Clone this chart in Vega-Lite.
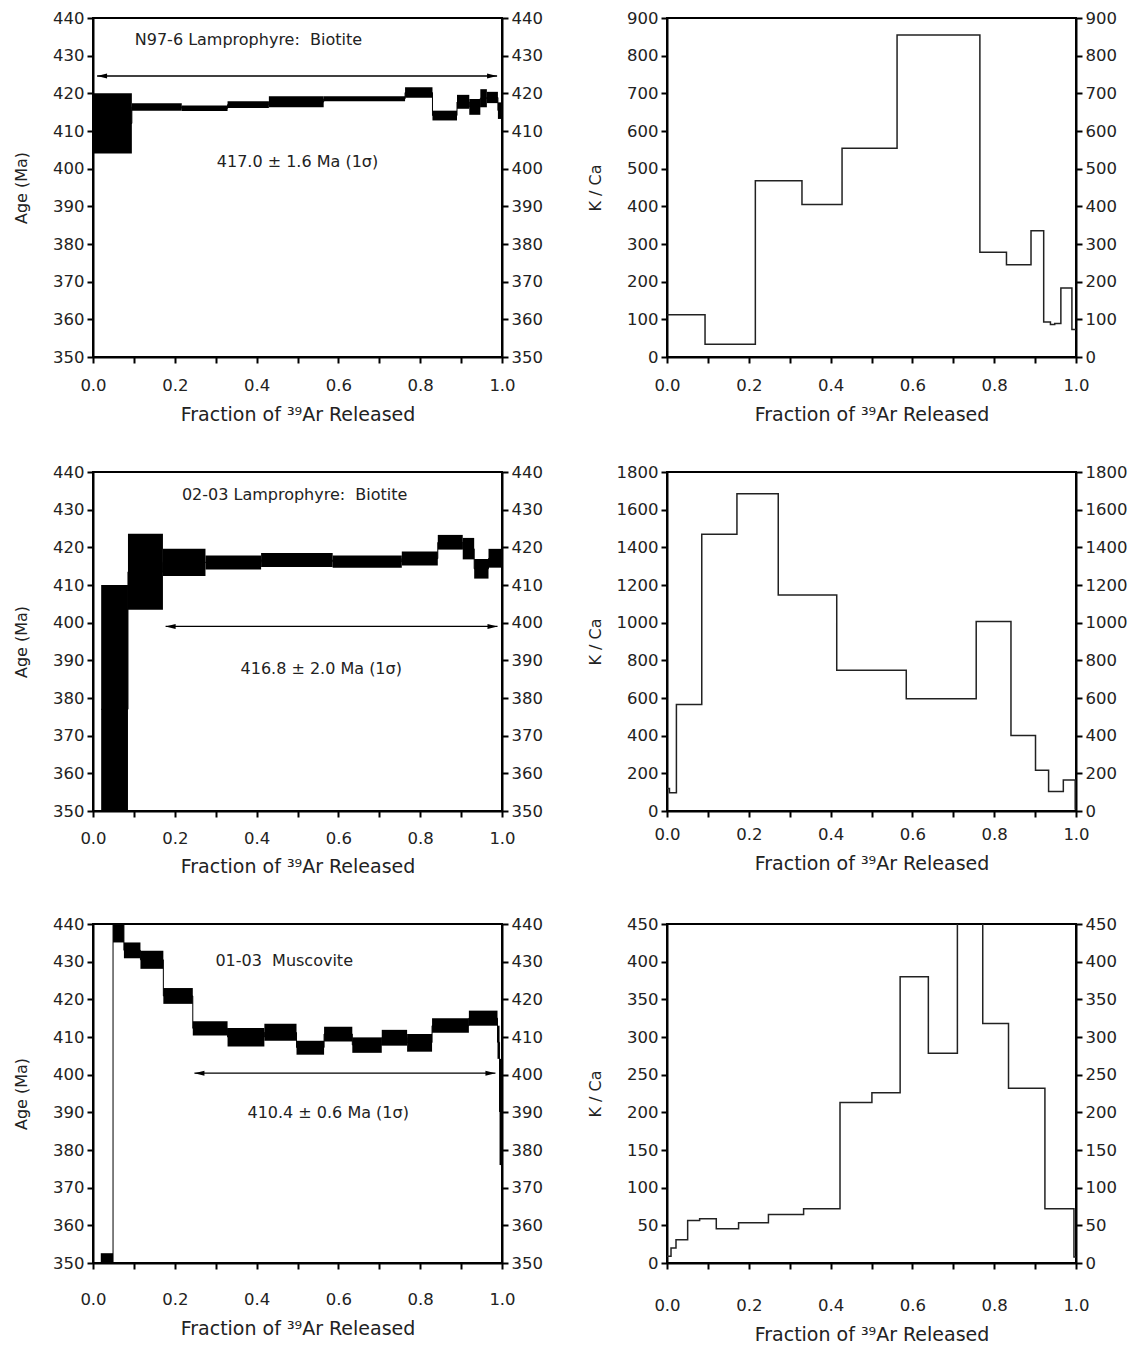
{
  "$schema": "https://vega.github.io/schema/vega-lite/v6.json",
  "padding": {"left": 12, "top": 9, "right": 0, "bottom": 0},
  "config": {
    "font": "DejaVu Sans",
    "view": {"stroke": "black", "strokeWidth": 2},
    "axis": {
      "domainColor": "black", "domainWidth": 2, "tickColor": "black", "tickWidth": 2, "tickSize": 6,
      "labelFont": "DejaVu Sans", "labelFontSize": 16.5, "labelColor": "#222", "labelPadding": 3,
      "titleFont": "DejaVu Sans", "titleFontSize": 19, "titleFontWeight": "normal", "titleColor": "#222", "grid": false
    },
    "text": {"font": "DejaVu Sans", "fontSize": 16, "color": "#222"}
  },
  "datasets": {
    "age1": [
      {"f0": 0, "f1": 0.095, "lo": 404.0, "hi": 420.0, "age": 412.0},
      {"f0": 0.095, "f1": 0.217, "lo": 415.4, "hi": 417.4, "age": 416.4},
      {"f0": 0.217, "f1": 0.329, "lo": 415.3, "hi": 416.8, "age": 416.0},
      {"f0": 0.329, "f1": 0.430, "lo": 416.1, "hi": 417.9, "age": 417.0},
      {"f0": 0.430, "f1": 0.564, "lo": 416.3, "hi": 419.2, "age": 417.7},
      {"f0": 0.564, "f1": 0.763, "lo": 417.9, "hi": 419.2, "age": 418.5},
      {"f0": 0.763, "f1": 0.830, "lo": 418.8, "hi": 421.6, "age": 420.2},
      {"f0": 0.830, "f1": 0.890, "lo": 412.8, "hi": 415.4, "age": 414.1},
      {"f0": 0.890, "f1": 0.920, "lo": 415.9, "hi": 419.6, "age": 417.7},
      {"f0": 0.920, "f1": 0.947, "lo": 414.3, "hi": 418.5, "age": 416.4},
      {"f0": 0.947, "f1": 0.963, "lo": 416.3, "hi": 421.1, "age": 418.7},
      {"f0": 0.963, "f1": 0.990, "lo": 417.4, "hi": 420.4, "age": 418.9},
      {"f0": 0.990, "f1": 1.0, "lo": 413.2, "hi": 417.6, "age": 415.4}
    ],
    "lab1": [
      {"f0": 0.38, "y": 434.1, "label": "N97-6 Lamprophyre:\u00a0 Biotite"},
      {"f0": 0.50, "y": 401.8, "label": "417.0 ± 1.6 Ma (1σ)"}
    ],
    "arr1": [{"f0": 0.01, "f1": 0.988, "y": 424.6}],
    "hd1": [{"f0": 0.01, "y": 424.6, "side": "l"}, {"f0": 0.988, "y": 424.6, "side": "r"}],
    "kca1": [
      {"f0": 0, "v": 112}, {"f0": 0.093, "v": 34}, {"f0": 0.216, "v": 468}, {"f0": 0.330, "v": 405},
      {"f0": 0.428, "v": 554}, {"f0": 0.5625, "v": 855}, {"f0": 0.765, "v": 278}, {"f0": 0.830, "v": 245},
      {"f0": 0.890, "v": 335}, {"f0": 0.921, "v": 93}, {"f0": 0.9375, "v": 86}, {"f0": 0.948, "v": 89},
      {"f0": 0.963, "v": 183}, {"f0": 0.990, "v": 73}, {"f0": 1.0, "v": 73}
    ],
    "age2": [
      {"f0": 0.02, "f1": 0.0855, "lo": 345.0, "hi": 410.0, "age": 377.0},
      {"f0": 0.0855, "f1": 0.171, "lo": 403.4, "hi": 423.6, "age": 413.5},
      {"f0": 0.171, "f1": 0.275, "lo": 412.4, "hi": 419.6, "age": 416.0},
      {"f0": 0.275, "f1": 0.411, "lo": 414.1, "hi": 417.8, "age": 416.0},
      {"f0": 0.411, "f1": 0.586, "lo": 414.8, "hi": 418.5, "age": 416.6},
      {"f0": 0.586, "f1": 0.755, "lo": 414.6, "hi": 417.8, "age": 416.2},
      {"f0": 0.755, "f1": 0.843, "lo": 415.2, "hi": 418.9, "age": 417.0},
      {"f0": 0.843, "f1": 0.904, "lo": 419.4, "hi": 423.3, "age": 421.3},
      {"f0": 0.904, "f1": 0.932, "lo": 416.8, "hi": 422.5, "age": 419.6},
      {"f0": 0.932, "f1": 0.967, "lo": 411.7, "hi": 416.9, "age": 414.3},
      {"f0": 0.967, "f1": 1.0, "lo": 414.6, "hi": 419.6, "age": 417.1}
    ],
    "lab2": [
      {"f0": 0.493, "y": 433.8, "label": "02-03 Lamprophyre:\u00a0 Biotite"},
      {"f0": 0.558, "y": 387.8, "label": "416.8 ± 2.0 Ma (1σ)"}
    ],
    "arr2": [{"f0": 0.1775, "f1": 0.989, "y": 399.0}],
    "hd2": [{"f0": 0.1775, "y": 399.0, "side": "l"}, {"f0": 0.989, "y": 399.0, "side": "r"}],
    "kca2": [
      {"f0": 0, "v": 120}, {"f0": 0.006, "v": 97}, {"f0": 0.023, "v": 566}, {"f0": 0.085, "v": 1469},
      {"f0": 0.171, "v": 1685}, {"f0": 0.272, "v": 1147}, {"f0": 0.415, "v": 748}, {"f0": 0.585, "v": 596},
      {"f0": 0.756, "v": 1006}, {"f0": 0.841, "v": 401}, {"f0": 0.901, "v": 216}, {"f0": 0.933, "v": 103},
      {"f0": 0.969, "v": 164}, {"f0": 0.998, "v": 10}, {"f0": 1.0, "v": 10}
    ],
    "age3": [
      {"f0": 0.019, "f1": 0.049, "lo": 340.0, "hi": 352.6, "age": 346.0},
      {"f0": 0.049, "f1": 0.0756, "lo": 435.1, "hi": 445.0, "age": 440.0},
      {"f0": 0.0756, "f1": 0.116, "lo": 430.9, "hi": 435.1, "age": 433.0},
      {"f0": 0.116, "f1": 0.172, "lo": 428.1, "hi": 432.9, "age": 430.5},
      {"f0": 0.172, "f1": 0.244, "lo": 418.8, "hi": 423.0, "age": 420.9},
      {"f0": 0.244, "f1": 0.329, "lo": 410.4, "hi": 414.2, "age": 412.3},
      {"f0": 0.329, "f1": 0.419, "lo": 407.5, "hi": 412.4, "age": 410.0},
      {"f0": 0.419, "f1": 0.4976, "lo": 409.0, "hi": 413.5, "age": 411.2},
      {"f0": 0.4976, "f1": 0.565, "lo": 405.3, "hi": 409.0, "age": 407.2},
      {"f0": 0.565, "f1": 0.634, "lo": 408.8, "hi": 412.7, "age": 410.8},
      {"f0": 0.634, "f1": 0.706, "lo": 405.8, "hi": 409.9, "age": 407.9},
      {"f0": 0.706, "f1": 0.768, "lo": 407.7, "hi": 411.9, "age": 409.8},
      {"f0": 0.768, "f1": 0.829, "lo": 406.1, "hi": 410.8, "age": 408.5},
      {"f0": 0.829, "f1": 0.919, "lo": 411.1, "hi": 415.0, "age": 413.0},
      {"f0": 0.919, "f1": 0.989, "lo": 413.0, "hi": 417.0, "age": 415.0},
      {"f0": 0.989, "f1": 0.994, "lo": 404.2, "hi": 413.0, "age": 408.6},
      {"f0": 0.994, "f1": 1.0, "lo": 376.0, "hi": 404.2, "age": 390.1}
    ],
    "lab3": [
      {"f0": 0.4675, "y": 430.1, "label": "01-03\u00a0 Muscovite"},
      {"f0": 0.575, "y": 389.8, "label": "410.4 ± 0.6 Ma (1σ)"}
    ],
    "arr3": [{"f0": 0.248, "f1": 0.984, "y": 400.4}],
    "hd3": [{"f0": 0.248, "y": 400.4, "side": "l"}, {"f0": 0.984, "y": 400.4, "side": "r"}],
    "kca3": [
      {"f0": 0, "v": 9}, {"f0": 0.0098, "v": 20}, {"f0": 0.022, "v": 31}, {"f0": 0.0505, "v": 56.5},
      {"f0": 0.0798, "v": 58.7}, {"f0": 0.1205, "v": 45.5}, {"f0": 0.175, "v": 53.4}, {"f0": 0.248, "v": 64.4},
      {"f0": 0.334, "v": 72}, {"f0": 0.423, "v": 213}, {"f0": 0.501, "v": 226}, {"f0": 0.570, "v": 380},
      {"f0": 0.639, "v": 278.5}, {"f0": 0.710, "v": 480}, {"f0": 0.772, "v": 318}, {"f0": 0.835, "v": 232},
      {"f0": 0.924, "v": 72}, {"f0": 0.995, "v": 8}, {"f0": 1.0, "v": 8}
    ]
  },
  "columns": 2,
  "spacing": {"row": 37, "column": 42},
  "concat": [
    {
      "width": 409, "height": 339,
      "encoding": {
        "x": {"field": "f0", "type": "quantitative", "scale": {"domain": [0, 1], "nice": false, "zero": false},
              "axis": {"title": "Fraction of ³⁹Ar Released", "values": [0, 0.1, 0.2, 0.3, 0.4, 0.5, 0.6, 0.7, 0.8, 0.9, 1], "labelExpr": "round(datum.value*10)%2==0 ? format(datum.value,'.1f') : ''", "labelFlush": false, "labelOverlap": false, "labelPadding": 14, "titlePadding": 12}}
      },
      "layer": [
        {"data": {"name": "age1"}, "mark": {"type": "rect", "color": "black", "clip": true},
         "encoding": {
           "x2": {"field": "f1"},
           "y": {"field": "lo", "type": "quantitative", "scale": {"domain": [350, 440], "nice": false, "zero": false},
                 "axis": {"orient": "left", "title": "Age (Ma)", "titleFontSize": 16, "titleX": -72, "titleBaseline": "middle", "format": "d", "values": [350, 360, 370, 380, 390, 400, 410, 420, 430, 440]}},
           "y2": {"field": "hi"}}},
        {"data": {"name": "age1"}, "mark": {"type": "line", "interpolate": "step-after", "color": "black", "strokeWidth": 1, "clip": true},
         "encoding": {
           "y": {"field": "age", "type": "quantitative", "scale": {"domain": [350, 440], "nice": false, "zero": false},
                 "axis": {"orient": "right", "title": null, "format": "d", "values": [350, 360, 370, 380, 390, 400, 410, 420, 430, 440]}}}},
        {"data": {"name": "lab1"}, "mark": {"type": "text", "align": "center", "baseline": "middle"},
         "encoding": {
           "y": {"field": "y", "type": "quantitative", "scale": {"domain": [350, 440], "nice": false, "zero": false}, "axis": null},
           "text": {"field": "label"}}},
        {"data": {"name": "arr1"}, "mark": {"type": "rule", "color": "black", "strokeWidth": 1.3},
         "encoding": {
           "x2": {"field": "f1"},
           "y": {"field": "y", "type": "quantitative", "scale": {"domain": [350, 440], "nice": false, "zero": false}, "axis": null}}},
        {"data": {"name": "hd1"}, "mark": {"type": "point", "filled": true, "size": 100, "color": "black", "opacity": 1},
         "encoding": {
           "y": {"field": "y", "type": "quantitative", "scale": {"domain": [350, 440], "nice": false, "zero": false}, "axis": null},
           "shape": {"field": "side", "type": "nominal", "scale": {"domain": ["l", "r"], "range": ["M0,0L2,-0.5L2,0.5Z", "M0,0L-2,-0.5L-2,0.5Z"]}, "legend": null}}}
      ],
      "resolve": {"axis": {"y": "independent"}}
    },
    {
      "width": 409, "height": 339,
      "encoding": {
        "x": {"field": "f0", "type": "quantitative", "scale": {"domain": [0, 1], "nice": false, "zero": false},
              "axis": {"title": "Fraction of ³⁹Ar Released", "values": [0, 0.1, 0.2, 0.3, 0.4, 0.5, 0.6, 0.7, 0.8, 0.9, 1], "labelExpr": "round(datum.value*10)%2==0 ? format(datum.value,'.1f') : ''", "labelFlush": false, "labelOverlap": false, "labelPadding": 14, "titlePadding": 12}}
      },
      "layer": [
        {"data": {"name": "kca1"}, "mark": {"type": "line", "interpolate": "step-after", "color": "#222", "strokeWidth": 1.5, "clip": true},
         "encoding": {
           "y": {"field": "v", "type": "quantitative", "scale": {"domain": [0, 900], "nice": false, "zero": false},
                 "axis": {"orient": "left", "title": "K / Ca", "titleFontSize": 16, "titleX": -72, "titleBaseline": "middle", "format": "d", "values": [0, 100, 200, 300, 400, 500, 600, 700, 800, 900]}}}},
        {"data": {"name": "kca1"}, "mark": {"type": "line", "interpolate": "step-after", "strokeOpacity": 0, "clip": true},
         "encoding": {
           "y": {"field": "v", "type": "quantitative", "scale": {"domain": [0, 900], "nice": false, "zero": false},
                 "axis": {"orient": "right", "title": null, "format": "d", "values": [0, 100, 200, 300, 400, 500, 600, 700, 800, 900]}}}}
      ],
      "resolve": {"axis": {"y": "independent"}}
    },
    {
      "width": 409, "height": 339,
      "encoding": {
        "x": {"field": "f0", "type": "quantitative", "scale": {"domain": [0, 1], "nice": false, "zero": false},
              "axis": {"title": "Fraction of ³⁹Ar Released", "values": [0, 0.1, 0.2, 0.3, 0.4, 0.5, 0.6, 0.7, 0.8, 0.9, 1], "labelExpr": "round(datum.value*10)%2==0 ? format(datum.value,'.1f') : ''", "labelFlush": false, "labelOverlap": false, "labelPadding": 13, "titlePadding": 11}}
      },
      "layer": [
        {"data": {"name": "age2"}, "mark": {"type": "rect", "color": "black", "clip": true},
         "encoding": {
           "x2": {"field": "f1"},
           "y": {"field": "lo", "type": "quantitative", "scale": {"domain": [350, 440], "nice": false, "zero": false},
                 "axis": {"orient": "left", "title": "Age (Ma)", "titleFontSize": 16, "titleX": -72, "titleBaseline": "middle", "format": "d", "values": [350, 360, 370, 380, 390, 400, 410, 420, 430, 440]}},
           "y2": {"field": "hi"}}},
        {"data": {"name": "age2"}, "mark": {"type": "line", "interpolate": "step-after", "color": "black", "strokeWidth": 1, "clip": true},
         "encoding": {
           "y": {"field": "age", "type": "quantitative", "scale": {"domain": [350, 440], "nice": false, "zero": false},
                 "axis": {"orient": "right", "title": null, "format": "d", "values": [350, 360, 370, 380, 390, 400, 410, 420, 430, 440]}}}},
        {"data": {"name": "lab2"}, "mark": {"type": "text", "align": "center", "baseline": "middle"},
         "encoding": {
           "y": {"field": "y", "type": "quantitative", "scale": {"domain": [350, 440], "nice": false, "zero": false}, "axis": null},
           "text": {"field": "label"}}},
        {"data": {"name": "arr2"}, "mark": {"type": "rule", "color": "black", "strokeWidth": 1.3},
         "encoding": {
           "x2": {"field": "f1"},
           "y": {"field": "y", "type": "quantitative", "scale": {"domain": [350, 440], "nice": false, "zero": false}, "axis": null}}},
        {"data": {"name": "hd2"}, "mark": {"type": "point", "filled": true, "size": 100, "color": "black", "opacity": 1},
         "encoding": {
           "y": {"field": "y", "type": "quantitative", "scale": {"domain": [350, 440], "nice": false, "zero": false}, "axis": null},
           "shape": {"field": "side", "type": "nominal", "scale": {"domain": ["l", "r"], "range": ["M0,0L2,-0.5L2,0.5Z", "M0,0L-2,-0.5L-2,0.5Z"]}, "legend": null}}}
      ],
      "resolve": {"axis": {"y": "independent"}}
    },
    {
      "width": 409, "height": 339,
      "encoding": {
        "x": {"field": "f0", "type": "quantitative", "scale": {"domain": [0, 1], "nice": false, "zero": false},
              "axis": {"title": "Fraction of ³⁹Ar Released", "values": [0, 0.1, 0.2, 0.3, 0.4, 0.5, 0.6, 0.7, 0.8, 0.9, 1], "labelExpr": "round(datum.value*10)%2==0 ? format(datum.value,'.1f') : ''", "labelFlush": false, "labelOverlap": false, "labelPadding": 9, "titlePadding": 12}}
      },
      "layer": [
        {"data": {"name": "kca2"}, "mark": {"type": "line", "interpolate": "step-after", "color": "#222", "strokeWidth": 1.5, "clip": true},
         "encoding": {
           "y": {"field": "v", "type": "quantitative", "scale": {"domain": [0, 1800], "nice": false, "zero": false},
                 "axis": {"orient": "left", "title": "K / Ca", "titleFontSize": 16, "titleX": -72, "titleBaseline": "middle", "format": "d", "values": [0, 200, 400, 600, 800, 1000, 1200, 1400, 1600, 1800]}}}},
        {"data": {"name": "kca2"}, "mark": {"type": "line", "interpolate": "step-after", "strokeOpacity": 0, "clip": true},
         "encoding": {
           "y": {"field": "v", "type": "quantitative", "scale": {"domain": [0, 1800], "nice": false, "zero": false},
                 "axis": {"orient": "right", "title": null, "format": "d", "values": [0, 200, 400, 600, 800, 1000, 1200, 1400, 1600, 1800]}}}}
      ],
      "resolve": {"axis": {"y": "independent"}}
    },
    {
      "width": 409, "height": 339,
      "encoding": {
        "x": {"field": "f0", "type": "quantitative", "scale": {"domain": [0, 1], "nice": false, "zero": false},
              "axis": {"title": "Fraction of ³⁹Ar Released", "values": [0, 0.1, 0.2, 0.3, 0.4, 0.5, 0.6, 0.7, 0.8, 0.9, 1], "labelExpr": "round(datum.value*10)%2==0 ? format(datum.value,'.1f') : ''", "labelFlush": false, "labelOverlap": false, "labelPadding": 22, "titlePadding": 12}}
      },
      "layer": [
        {"data": {"name": "age3"}, "mark": {"type": "rect", "color": "black", "clip": true},
         "encoding": {
           "x2": {"field": "f1"},
           "y": {"field": "lo", "type": "quantitative", "scale": {"domain": [350, 440], "nice": false, "zero": false},
                 "axis": {"orient": "left", "title": "Age (Ma)", "titleFontSize": 16, "titleX": -72, "titleBaseline": "middle", "format": "d", "values": [350, 360, 370, 380, 390, 400, 410, 420, 430, 440]}},
           "y2": {"field": "hi"}}},
        {"data": {"name": "age3"}, "mark": {"type": "line", "interpolate": "step-after", "color": "black", "strokeWidth": 1, "clip": true},
         "encoding": {
           "y": {"field": "age", "type": "quantitative", "scale": {"domain": [350, 440], "nice": false, "zero": false},
                 "axis": {"orient": "right", "title": null, "format": "d", "values": [350, 360, 370, 380, 390, 400, 410, 420, 430, 440]}}}},
        {"data": {"name": "lab3"}, "mark": {"type": "text", "align": "center", "baseline": "middle"},
         "encoding": {
           "y": {"field": "y", "type": "quantitative", "scale": {"domain": [350, 440], "nice": false, "zero": false}, "axis": null},
           "text": {"field": "label"}}},
        {"data": {"name": "arr3"}, "mark": {"type": "rule", "color": "black", "strokeWidth": 1.3},
         "encoding": {
           "x2": {"field": "f1"},
           "y": {"field": "y", "type": "quantitative", "scale": {"domain": [350, 440], "nice": false, "zero": false}, "axis": null}}},
        {"data": {"name": "hd3"}, "mark": {"type": "point", "filled": true, "size": 100, "color": "black", "opacity": 1},
         "encoding": {
           "y": {"field": "y", "type": "quantitative", "scale": {"domain": [350, 440], "nice": false, "zero": false}, "axis": null},
           "shape": {"field": "side", "type": "nominal", "scale": {"domain": ["l", "r"], "range": ["M0,0L2,-0.5L2,0.5Z", "M0,0L-2,-0.5L-2,0.5Z"]}, "legend": null}}}
      ],
      "resolve": {"axis": {"y": "independent"}}
    },
    {
      "width": 409, "height": 339,
      "encoding": {
        "x": {"field": "f0", "type": "quantitative", "scale": {"domain": [0, 1], "nice": false, "zero": false},
              "axis": {"title": "Fraction of ³⁹Ar Released", "values": [0, 0.1, 0.2, 0.3, 0.4, 0.5, 0.6, 0.7, 0.8, 0.9, 1], "labelExpr": "round(datum.value*10)%2==0 ? format(datum.value,'.1f') : ''", "labelFlush": false, "labelOverlap": false, "labelPadding": 28, "titlePadding": 12}}
      },
      "layer": [
        {"data": {"name": "kca3"}, "mark": {"type": "line", "interpolate": "step-after", "color": "#222", "strokeWidth": 1.5, "clip": true},
         "encoding": {
           "y": {"field": "v", "type": "quantitative", "scale": {"domain": [0, 450], "nice": false, "zero": false},
                 "axis": {"orient": "left", "title": "K / Ca", "titleFontSize": 16, "titleX": -72, "titleBaseline": "middle", "format": "d", "values": [0, 50, 100, 150, 200, 250, 300, 350, 400, 450]}}}},
        {"data": {"name": "kca3"}, "mark": {"type": "line", "interpolate": "step-after", "strokeOpacity": 0, "clip": true},
         "encoding": {
           "y": {"field": "v", "type": "quantitative", "scale": {"domain": [0, 450], "nice": false, "zero": false},
                 "axis": {"orient": "right", "title": null, "format": "d", "values": [0, 50, 100, 150, 200, 250, 300, 350, 400, 450]}}}}
      ],
      "resolve": {"axis": {"y": "independent"}}
    }
  ]
}
